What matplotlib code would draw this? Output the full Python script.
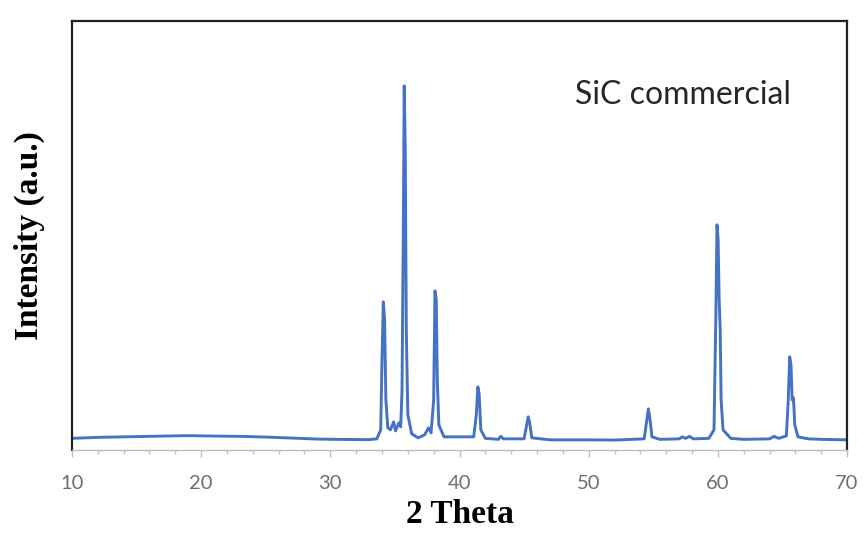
import matplotlib.pyplot as plt
from matplotlib.ticker import MultipleLocator

# XRD pattern of commercial SiC
two_theta = [
    10.0, 12.0, 14.0, 16.0, 18.0, 19.0, 21.0, 23.0, 25.0, 27.0, 29.0, 31.0, 33.0,
    33.6, 33.9, 34.0, 34.1, 34.2, 34.3, 34.45,
    34.65, 34.9, 35.05, 35.3, 35.45,
    35.55, 35.65, 35.72, 35.8, 35.88, 36.0, 36.3, 36.8,
    37.3, 37.6, 37.8, 38.0, 38.1, 38.2, 38.28, 38.4, 38.8,
    41.1, 41.3, 41.42, 41.52, 41.65, 42.0,
    43.0, 43.2, 43.4,
    45.0, 45.2, 45.32, 45.42, 45.6,
    47.0, 50.0, 52.0,
    54.3, 54.5, 54.62, 54.72, 54.9, 55.5,
    57.0, 57.25, 57.5, 57.8, 58.1, 59.3,
    59.7, 59.85, 59.93, 60.02, 60.1, 60.18, 60.25, 60.4, 61.0,
    62.0, 64.0, 64.35, 64.7, 65.3,
    65.45, 65.56, 65.66, 65.75, 65.85, 65.95, 66.2, 67.0,
    68.0, 70.0,
]
intensity = [
    115, 125, 130, 135, 140, 142, 138, 135, 128, 118, 108, 104, 102,
    110, 200, 900, 1480, 1300, 500, 220,
    200, 280, 190, 270, 230,
    600, 2200, 3640, 3000, 1200, 350, 160, 120,
    150, 220, 170, 500, 1590, 1500, 700, 250, 130,
    130, 350, 630, 560, 200, 115,
    105, 135, 110,
    110, 250, 330, 280, 120,
    100, 100, 98,
    110, 300, 410, 330, 130, 105,
    110, 130, 115, 135, 110, 115,
    200, 1400, 2250, 2100, 1500, 1200, 500, 200, 115,
    105, 110, 135, 115, 140,
    500, 930, 850, 500, 520, 250, 130, 110,
    105, 100,
]
sample_label = "SiC commercial"

fig = plt.figure(figsize=(8.67, 5.33), dpi=100)
ax = fig.add_axes([0.083, 0.156, 0.894, 0.805])

ax.plot(two_theta, intensity, color="#4472C4", linewidth=2.1)

ax.set_xlim(10, 70)
ax.set_ylim(0, 4290)
ax.xaxis.set_major_locator(MultipleLocator(10))
ax.xaxis.set_minor_locator(MultipleLocator(2))
ax.set_yticks([])

for side in ["left", "top", "right"]:
    ax.spines[side].set_color("#222222")
    ax.spines[side].set_linewidth(1.6)
ax.spines["bottom"].set_color("#BFBFBF")
ax.spines["bottom"].set_linewidth(1.0)

ax.tick_params(axis="x", which="major", direction="out", length=5, width=1,
               color="#BFBFBF", labelcolor="#6E6E6E", labelsize=14.5, pad=13)
ax.tick_params(axis="x", which="minor", direction="out", length=3, width=1,
               color="#BFBFBF")
for lbl in ax.get_xticklabels():
    lbl.set_family("Lato")

ax.set_xlabel("2 Theta", family="Liberation Serif", fontweight="bold",
              fontsize=24, va="top")
ax.xaxis.set_label_coords(0.5, -0.115)
ax.set_ylabel("Intensity (a.u.)", family="Liberation Serif", fontweight="bold",
              fontsize=24)
ax.yaxis.set_label_coords(-0.035, 0.5)

ax.text(0.649, 0.828, sample_label, transform=ax.transAxes, family="Lato",
        fontsize=23, color="#262626", va="center", ha="left")

fig.savefig("out.png", dpi=100)
